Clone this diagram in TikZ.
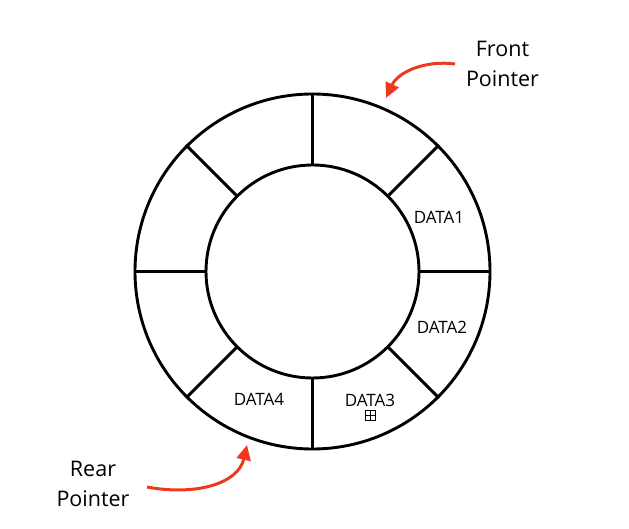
\documentclass[tikz,border=0pt]{standalone}
\usepackage{fontspec}
\setmainfont{Open Sans}
\usetikzlibrary{arrows.meta}
\definecolor{ptrred}{RGB}{238,58,28}
\tikzset{
  ring/.style={circle, draw=black, line width=2.9pt, inner sep=0pt},
  spoke/.style={draw=black, line width=2.9pt},
  datalbl/.style={font=\fontsize{17}{20}\selectfont, inner sep=0pt},
  ptrlbl/.style={font=\fontsize{21.5}{30}\selectfont, align=center, inner sep=0pt},
  ptrarrow/.style={draw=ptrred, line width=3pt, -{Triangle[length=15pt,width=14pt]}},
}
\begin{document}
\begin{tikzpicture}[x=1pt,y=-1pt]
  \useasboundingbox (0,0) rectangle (629,529);
  \node[ring, minimum size=355pt] (outer) at (312.5,271.5) {};
  \node[ring, minimum size=213pt] (inner) at (312.5,271.5) {};
  \foreach \a in {0,45,90,135,180,225,270,315} {
    \draw[spoke] (inner.\a) -- (outer.\a);
  }
  \node[datalbl] (d1) at (439,217) {DATA1};
  \node[datalbl] (d2) at (442,327) {DATA2};
  \node[datalbl] (d3) at (370,400) {DATA3};
  \node[datalbl] (d4) at (259,399) {DATA4};
  \node[draw=black, line width=0.9pt, minimum size=10pt, inner sep=0pt,
        path picture={\draw[line width=0.9pt] (path picture bounding box.north) -- (path picture bounding box.south)
                      (path picture bounding box.west) -- (path picture bounding box.east);}]
        (cursor) at (370.5,415) {};
  \node[ptrlbl] (front) at (502.5,64) {Front\\Pointer};
  \node[ptrlbl] (rear) at (93,484) {Rear\\Pointer};
  \coordinate (fs) at (455,64);
  \coordinate (fe) at (386,98);
  \coordinate (rs) at (147,487);
  \coordinate (re) at (247,445);
  \draw[ptrarrow] (fs) .. controls (425,60) and (398,72) .. (fe);
  \draw[ptrarrow] (rs) .. controls (195,496) and (238,484) .. (re);
\end{tikzpicture}
\end{document}
